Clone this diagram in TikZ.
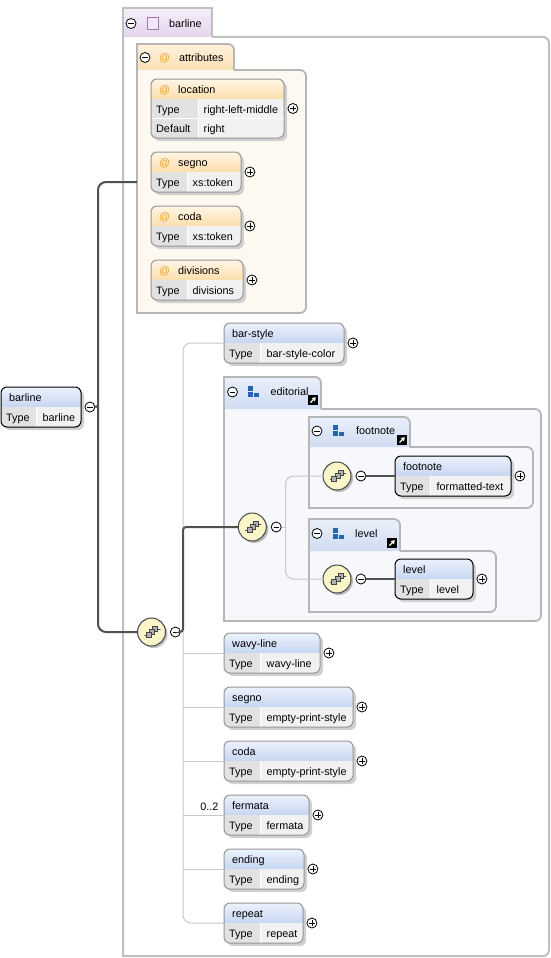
\documentclass[tikz,border=0pt]{standalone}
\usepackage{fontspec}
\setmainfont{Liberation Sans}
\usepackage{xcolor}
\usetikzlibrary{positioning,arrows.meta,shadows}

\definecolor{elemtop}{RGB}{236,242,252}
\definecolor{elembot}{RGB}{198,214,241}
\definecolor{attrtop}{RGB}{255,246,230}
\definecolor{attrbot}{RGB}{252,222,172}
\definecolor{typecell}{RGB}{226,226,226}
\definecolor{valcell}{RGB}{241,241,241}
\definecolor{shadowgray}{RGB}{208,208,208}
\definecolor{optedge}{RGB}{150,150,150}
\definecolor{grpedge}{RGB}{182,182,182}
\definecolor{outeredge}{RGB}{192,192,192}
\definecolor{attrfill}{RGB}{254,249,240}
\definecolor{attrtabtop}{RGB}{254,242,222}
\definecolor{attrtabbot}{RGB}{251,224,180}
\definecolor{grpfill}{RGB}{246,248,252}
\definecolor{grptop}{RGB}{234,240,250}
\definecolor{grpbot}{RGB}{207,220,243}
\definecolor{lavtop}{RGB}{246,238,249}
\definecolor{lavbot}{RGB}{228,212,236}
\definecolor{lavfill}{RGB}{240,232,245}
\definecolor{lavedge}{RGB}{168,118,178}
\definecolor{atorange}{RGB}{238,160,40}
\definecolor{iconblue}{RGB}{40,100,180}
\definecolor{seqfill}{RGB}{251,246,202}
\definecolor{seqedge}{RGB}{70,70,70}
\definecolor{darkline}{RGB}{80,80,80}
\definecolor{lightline}{RGB}{200,200,200}

% element box: name, x, y, width, split, title, type, edge colour
\newcommand{\xelem}[8]{%
  \fill[shadowgray, rounded corners=6pt] (#2+3,#3+3) rectangle ++(#4,40);
  \begin{scope}
    \clip[rounded corners=6pt] (#2,#3) rectangle ++(#4,40);
    \shade[top color=elemtop, bottom color=elembot] (#2,#3) rectangle ++(#4,20);
    \fill[typecell] (#2,#3+20) rectangle (#2+#5,#3+40);
    \fill[valcell] (#2+#5,#3+20) rectangle (#2+#4,#3+40);
  \end{scope}
  \draw[white, line width=1pt] (#2+#5,#3+20) -- (#2+#5,#3+40);
  \node[elembox, draw=#8, minimum width=#4pt, anchor=north west] (#1) at (#2,#3) {};
  \node[txt] (#1-t) at (#2+8,#3+14) {#6};
  \node[txt] (#1-k) at (#2+5,#3+34) {Type};
  \node[txt] (#1-v) at (#2+#5+6.5,#3+34) {#7};
}

% attribute box: name, x, y, width, split, height, title, type
\newcommand{\xattr}[8]{%
  \fill[shadowgray, rounded corners=6pt] (#2+3,#3+3) rectangle ++(#4,#6);
  \begin{scope}
    \clip[rounded corners=6pt] (#2,#3) rectangle ++(#4,#6);
    \shade[top color=attrtop, bottom color=attrbot] (#2,#3) rectangle ++(#4,20);
    \fill[typecell] (#2,#3+20) rectangle (#2+#5,#3+#6);
    \fill[valcell] (#2+#5,#3+20) rectangle (#2+#4,#3+#6);
  \end{scope}
  \draw[white, line width=1pt] (#2+#5,#3+20) -- (#2+#5,#3+#6);
  \node[elembox, draw=optedge, minimum width=#4pt, minimum height=#6pt, anchor=north west] (#1) at (#2,#3) {};
  \node[txt, text=atorange] (#1-at) at (#2+8,#3+14) {@};
  \node[txt] (#1-t) at (#2+27,#3+14) {#7};
  \node[txt] (#1-k) at (#2+5,#3+34) {Type};
  \node[txt] (#1-v) at (#2+#5+5.5,#3+34) {#8};
}

% group frame: fill, edge style, x1, x of tab end, y1, x2, y2
\newcommand{\grpframe}[7]{%
  \fill[#1] (#3,#5) -- (#6-6,#5) arc[start angle=-90, end angle=0, radius=6] -- (#6,#7-6) arc[start angle=0, end angle=90, radius=6] -- (#3,#7) -- cycle;
  \draw[#2] (#4,#5) -- (#6-6,#5) arc[start angle=-90, end angle=0, radius=6] -- (#6,#7-6) arc[start angle=0, end angle=90, radius=6] -- (#3,#7) -- (#3,#5);
}

% group tab: top colour, bottom colour, x1, y1, x2, y2
\newcommand{\grptab}[6]{%
  \shade[top color=#1, bottom color=#2] (#3,#6) -- (#3,#4) -- (#5-6,#4) arc[start angle=-90, end angle=0, radius=6] -- (#5,#6) -- cycle;
  \draw[grpline] (#3,#6) -- (#3,#4) -- (#5-6,#4) arc[start angle=-90, end angle=0, radius=6] -- (#5,#6);
}

\newcommand{\grpicon}[2]{%
  \fill[iconblue] (#1,#2) rectangle ++(4.5,4.5);
  \fill[iconblue] (#1,#2+6) rectangle ++(4.5,4.5);
  \fill[iconblue] (#1+6,#2+7) rectangle ++(5,3.5);
}

\newcommand{\linkicon}[2]{%
  \fill[black] (#1,#2) rectangle ++(10,10);
  \draw[white, line width=1.1pt, -{Triangle[length=3.5pt,width=4.5pt]}] (#1+2.5,#2+7.5) -- (#1+7.8,#2+2.2);
}

\newcommand{\seqglyph}{%
  \begin{scope}[shift={(path picture bounding box.center)}]
    \draw[line width=.8pt] (-8,3) -- (-5,3) (6,-3) -- (10,-3);
    \fill (-8,3) circle[radius=1.4] (10,-3) circle[radius=1.4];
    \draw[fill=black!30, line width=.6pt] (1.2,-5.8) rectangle ++(5,5);
    \draw[fill=black!30, line width=.6pt] (-2.2,-2.8) rectangle ++(5,5);
    \draw[fill=black!30, line width=.6pt] (-5.5,0.5) rectangle ++(5,5);
  \end{scope}}

\begin{document}
\begin{tikzpicture}[x=1pt, y=-1pt,
    txt/.style={inner sep=0pt, anchor=base west, font=\fontsize{10.8}{13}\selectfont},
    elembox/.style={rectangle, rounded corners=6pt, minimum height=40pt, inner sep=0pt, outer sep=0pt, line width=1pt},
    btn/.style={circle, draw, fill=white, minimum size=10pt, inner sep=0pt, line width=.8pt},
    minusbtn/.style={btn, path picture={\draw[line width=.8pt] ([xshift=-2.6pt]path picture bounding box.center) -- ([xshift=2.6pt]path picture bounding box.center);}},
    plusbtn/.style={btn, path picture={\draw[line width=.8pt] ([xshift=-2.6pt]path picture bounding box.center) -- ([xshift=2.6pt]path picture bounding box.center) ([yshift=-2.6pt]path picture bounding box.center) -- ([yshift=2.6pt]path picture bounding box.center);}},
    seqnode/.style={circle, draw=seqedge, line width=1pt, fill=seqfill, minimum size=28pt, inner sep=0pt, drop shadow={shadow xshift=2pt, shadow yshift=-2pt, fill=black, opacity=.25}, path picture={\seqglyph}},
    darkconn/.style={draw=darkline, line width=2pt, rounded corners=8pt},
    lightconn/.style={draw=lightline, line width=1pt, rounded corners=8pt},
    grpline/.style={draw=grpedge, line width=1.8pt}
  ]
  \useasboundingbox (0,0) rectangle (551,958);
  \fill[white] (0,0) rectangle (551,958);

  % Outer complex type
  \grpframe{white}{draw=outeredge, line width=2pt}{123}{212}{37}{549}{956}
  \shade[top color=lavtop, bottom color=lavbot] (123,8) rectangle (212,37);
  \draw[draw=outeredge, line width=2pt] (123,37) -- (123,8) -- (212,8) -- (212,37);
  \node[minusbtn] (m-outer) at (131,23.5) {};
  \draw[draw=lavedge, fill=lavfill, line width=1pt] (147,18) rectangle (158,30);
  \node[txt] (outer-t) at (169,27.5) {barline};

  % Attributes
  \grpframe{attrfill}{grpline}{137}{234}{70}{306}{313}
  \grptab{attrtabtop}{attrtabbot}{137}{44}{234}{70}
  \node[minusbtn] (m-attrs) at (145,57.5) {};
  \node[txt, text=atorange] (attrs-at) at (159,61.5) {@};
  \node[txt] (attrs-t) at (179,61.5) {attributes};

  \xattr{attr-location}{151}{79}{133}{47}{59}{location}{right-left-middle}
  \draw[white, line width=1pt] (152,118.5) -- (283.5,118.5);
  \node[txt] (attr-location-dk) at (156,132.5) {Default};
  \node[txt] (attr-location-dv) at (203.5,132.5) {right};
  \xattr{attr-segno}{151}{152}{90}{36}{40}{segno}{xs:token}
  \xattr{attr-coda}{151}{206}{90}{36}{40}{coda}{xs:token}
  \xattr{attr-divisions}{151}{260}{92}{36}{40}{divisions}{divisions}

  \foreach \a in {attr-location, attr-segno, attr-coda, attr-divisions}
    \node[plusbtn, right=3.5pt of \a] (p-\a) {};

  % Root element
  \xelem{barline}{1}{387}{80}{35}{barline}{barline}{black}
  \node[minusbtn, right=3.5pt of barline] (m-barline) {};

  % Sequence
  \node[seqnode] (seq1) at (151.5,632) {};
  \node[minusbtn, right=4pt of seq1] (m-seq1) {};

  \xelem{el-barstyle}{224}{323}{120}{36}{bar-style}{bar-style-color}{optedge}
  \xelem{el-wavyline}{224}{633}{96}{36}{wavy-line}{wavy-line}{optedge}
  \xelem{el-segno}{224}{687}{129}{36}{segno}{empty-print-style}{optedge}
  \xelem{el-coda}{224}{741}{129}{36}{coda}{empty-print-style}{optedge}
  \xelem{el-fermata}{224}{795}{85}{36}{fermata}{fermata}{optedge}
  \xelem{el-ending}{224}{849}{80}{36}{ending}{ending}{optedge}
  \xelem{el-repeat}{224}{903}{79}{36}{repeat}{repeat}{optedge}
  \node[txt, anchor=base east] (fermata-occ) at (218.5,810.5) {0..2};

  % Editorial group
  \grpframe{grpfill}{grpline}{224}{321}{409}{541}{621}
  \grptab{grptop}{grpbot}{224}{377}{321}{409}
  \node[minusbtn] (m-editorial) at (232.5,392) {};
  \grpicon{248}{386}
  \node[txt] (editorial-t) at (270.5,395.5) {editorial};
  \linkicon{308}{395}
  \node[seqnode] (seq2) at (252.3,527) {};
  \node[minusbtn, right=4pt of seq2] (m-seq2) {};

  % Footnote group
  \grpframe{grpfill}{grpline}{309}{410}{447}{533}{508}
  \grptab{grptop}{grpbot}{309}{417}{410}{447}
  \node[minusbtn] (m-footnotegrp) at (317,431) {};
  \grpicon{333}{425}
  \node[txt] (footnotegrp-t) at (356,434.5) {footnote};
  \linkicon{397}{435}
  \node[seqnode] (seq3) at (337,476) {};
  \node[minusbtn, right=4pt of seq3] (m-seq3) {};
  \xelem{el-footnote}{395}{456}{116}{35}{footnote}{formatted-text}{black}

  % Level group
  \grpframe{grpfill}{grpline}{309}{400}{551}{496}{612}
  \grptab{grptop}{grpbot}{309}{519}{400}{551}
  \node[minusbtn] (m-levelgrp) at (317,533.5) {};
  \grpicon{333}{528}
  \node[txt] (levelgrp-t) at (355,537) {level};
  \linkicon{387}{538}
  \node[seqnode] (seq4) at (337,579) {};
  \node[minusbtn, right=4pt of seq4] (m-seq4) {};
  \xelem{el-level}{395}{559}{78}{35}{level}{level}{black}

  \foreach \e in {el-barstyle, el-wavyline, el-segno, el-coda, el-fermata, el-ending, el-repeat, el-footnote, el-level}
    \node[plusbtn, right=3.5pt of \e] (p-\e) {};

  % Connectors
  \coordinate (attrs-in) at (137,182);
  \coordinate (trunk) at (98,406);
  \coordinate (spine) at (183,632);
  \coordinate (espine) at (285.5,527);

  \draw[lightconn] (el-barstyle.west) -| (spine) |- (el-repeat.west);
  \foreach \e in {el-wavyline, el-segno, el-coda, el-fermata, el-ending}
    \draw[lightconn] (\e.west) -- (\e.west -| spine);
  \draw[lightconn] (m-seq2.east) -- (espine);
  \draw[lightconn] (seq3.west) -| (espine) |- (seq4.west);

  \draw[darkconn] (attrs-in) -| (trunk) |- (seq1.west);
  \draw[darkconn] (m-barline.east) -- (trunk);
  \draw[darkconn, rounded corners=3pt] (m-seq1.east) -- (spine) |- (seq2.west);
  \draw[darkconn] (m-seq3.east) -- (el-footnote.west);
  \draw[darkconn] (m-seq4.east) -- (el-level.west);
\end{tikzpicture}
\end{document}
